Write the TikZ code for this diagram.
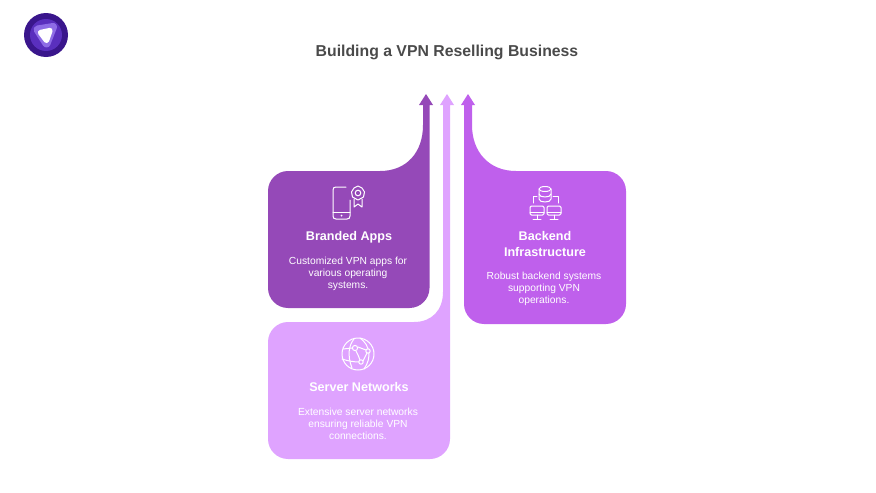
\documentclass[tikz,border=0pt]{standalone}
\usepackage{fontspec}
\setmainfont{Liberation Sans}
\definecolor{brandcol}{HTML}{9549B8}
\definecolor{servercol}{HTML}{DFA3FF}
\definecolor{backendcol}{HTML}{BF60EC}
\definecolor{titlecol}{HTML}{4A4A4A}
\definecolor{logoA}{HTML}{3A168C}
\definecolor{logoB}{HTML}{5A2FBE}
\definecolor{logoC}{HTML}{8E6CE6}
\begin{document}
\begin{tikzpicture}[x=0.75pt, y=-0.75pt]
	\tikzstyle{heading} = [align=center, font=\bfseries\fontsize{9.45}{12}\selectfont, text=white, inner sep=0pt]
	\tikzstyle{blurb}   = [align=center, font=\fontsize{7.7}{9}\selectfont, text=white, inner sep=0pt]
	\tikzstyle{icon}    = [draw=white, line width=0.75pt, line cap=round, line join=round]

	\useasboundingbox (0,0) rectangle (876,493);

	% logo
	\fill[logoA] (46,35) circle (22);
	\fill[logoB] (46,35) circle (16);
	\fill[logoC, draw=logoC, line width=6pt, line join=round] (37.5,29.5) -- (53,27) -- (46.5,43.5) -- cycle;
	\fill[white, draw=white, line width=4pt, line join=round] (40.5,32.5) -- (50,30.5) -- (46.5,40.5) -- cycle;

	\node[font=\bfseries\fontsize{11.85}{14}\selectfont, text=titlecol, inner sep=0pt] (title) at (447,52) {Building a VPN Reselling Business};

	% cards with their arrows
	\fill[servercol] (268,342) .. controls (268,331) and (277,322) .. (288,322) -- (414,322) .. controls (432,322) and (443,310) .. (443,292) -- (443,105) -- (440,105) -- (447,94) -- (454,105) -- (450,105) -- (450,439) .. controls (450,450) and (441,459) .. (430,459) -- (288,459) .. controls (277,459) and (268,450) .. (268,439) -- cycle;
	\fill[brandcol] (268,191) .. controls (268,180) and (277,171) .. (288,171) -- (380,171) .. controls (407,171) and (423,152) .. (423,125) -- (423,105) -- (419,105) -- (426,94) -- (433,105) -- (429.5,105) -- (429.5,288) .. controls (429.5,299) and (420.5,308) .. (409.5,308) -- (288,308) .. controls (277,308) and (268,299) .. (268,288) -- cycle;
	\fill[backendcol] (626,191) .. controls (626,180) and (617,171) .. (606,171) -- (516,171) .. controls (489,171) and (472,152) .. (472,125) -- (472,105) -- (475,105) -- (468,94) -- (461,105) -- (464,105) -- (464,304) .. controls (464,315) and (473,324) .. (484,324) -- (606,324) .. controls (617,324) and (626,315) .. (626,304) -- cycle;

	% texts
	\foreach \name/\x/\y/\styl/\text in {brandHead/349/237/heading/{Branded Apps}, brandText/348/273.5/blurb/{Customized VPN apps for\\various operating\\systems.}, backHead/545/243.5/heading/{Backend\\Infrastructure}, backText/544/288.5/blurb/{Robust backend systems\\supporting VPN\\operations.}, servHead/359/386.5/heading/{Server Networks}, servText/358/423.5/blurb/{Extensive server networks\\ensuring reliable VPN\\connections.}}
		\node[\styl] (\name) at (\x, \y) {\text};

	% phone and badge
	\draw[icon] (346,187) -- (336,187) .. controls (334,187) and (333,188) .. (333,190) -- (333,216) .. controls (333,218) and (334,219) .. (336,219) -- (347,219) .. controls (349,219) and (350,218) .. (350,216) -- (350,200);
	\draw[icon] (333,212) -- (350,212);
	\fill[white] (341.5,215.5) circle (1);
	\draw[icon] (358,186) -- (362,188) -- (364.5,192) -- (363.5,197) -- (358,200) -- (352.5,197) -- (351.5,192) -- (354,188) -- cycle;
	\draw[icon] (358,193) circle (2.8);
	\draw[icon] (354,199) -- (354,207) -- (358,204) -- (362,207) -- (362,199);

	% database and monitors
	\draw[icon] (545,189) ellipse (6 and 2.5);
	\draw[icon] (539,189) -- (539,199) .. controls (539,203) and (551,203) .. (551,199) -- (551,189);
	\draw[icon] (539,194) .. controls (539,198) and (551,198) .. (551,194);
	\draw[icon] (533,203) -- (533,196) -- (537,196);
	\draw[icon] (553,196) -- (558,196) -- (558,203);
	\foreach \x in {530,547} {
		\draw[icon, rounded corners=1pt] (\x,206) rectangle (\x+14,215);
		\draw[icon] (\x,212) -- (\x+14,212);
		\draw[icon] (\x+7,215) -- (\x+7,219);
		\draw[icon] (\x+3,219) -- (\x+11,219);
	}

	% globe
	\draw[icon] (358,354) circle (16);
	\draw[icon] (354,339) .. controls (349,345) and (347,355) .. (352,368);
	\draw[icon] (360,338) .. controls (370,345) and (372,358) .. (364,369);
	\draw[icon] (343,349) -- (352,348);
	\draw[icon] (358,347) -- (366,350);
	\draw[icon] (342,359) .. controls (348,361) and (354,362) .. (359,362);
	\draw[icon] (356,351) .. controls (358,355) and (359,357) .. (360,360);
	\draw[icon] (363,361) -- (367,353);
	\draw[icon, fill=servercol] (355,348) circle (2.6);
	\draw[icon, fill=servercol] (368,351) circle (2.2);
	\draw[icon, fill=servercol] (361,362) circle (2.2);
\end{tikzpicture}
\end{document}
